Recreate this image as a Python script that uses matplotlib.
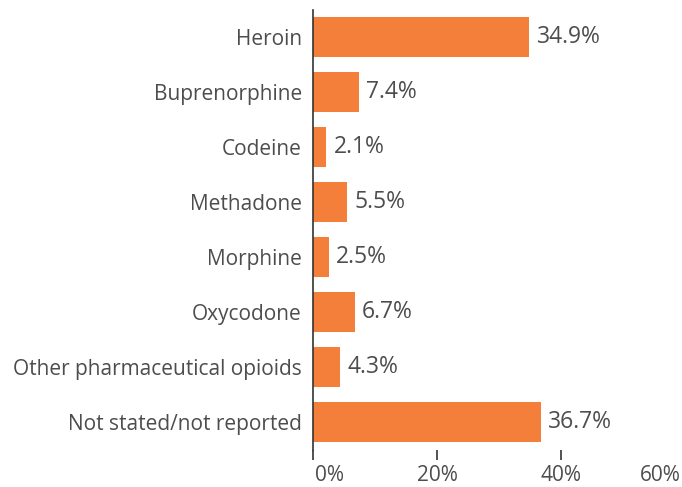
import matplotlib
matplotlib.use("Agg")
import matplotlib.pyplot as plt
from matplotlib.transforms import ScaledTranslation

categories = ["Heroin", "Buprenorphine", "Codeine", "Methadone", "Morphine",
              "Oxycodone", "Other pharmaceutical opioids", "Not stated/not reported"]
values = [34.9, 7.4, 2.1, 5.5, 2.5, 6.7, 4.3, 36.7]
xticks = [0, 20, 40, 60]
xtick_labels = ["0%", "20%", "40%", "60%"]

plt.rcParams['font.family'] = ['Open Sans', 'DejaVu Sans']
text_color = "#4d4d4d"
bar_color = "#F47F3A"

W, H = 682, 487
fig = plt.figure(figsize=(W / 100, H / 100), dpi=100)
left = 313 / W
right = 685 / W
top_px, bot_px = 9.5, 449.5
ax = fig.add_axes([left, (H - bot_px) / H, right - left, (bot_px - top_px) / H])

ypos = list(range(len(categories)))
ax.barh(ypos, values, height=0.727, color=bar_color)
for y, v in zip(ypos, values):
    ax.text(v + 1.2, y, f"{v:.1f}%", va="center", ha="left", fontsize=16.5, color=text_color)

ax.set_ylim(len(categories) - 0.5, -0.5)
ax.set_xlim(0, 60)
ax.set_yticks(ypos)
ax.set_yticklabels(categories, fontsize=15, color=text_color)
ax.set_xticks(xticks)
ax.set_xticklabels(xtick_labels, fontsize=15, color=text_color)
ax.tick_params(axis="y", length=0, pad=8)
ax.tick_params(axis="x", length=7, width=1.2, color="#333333", pad=4, direction="out")

labels = ax.get_xticklabels()
labels[0].set_horizontalalignment("left")
labels[0].set_transform(labels[0].get_transform() + ScaledTranslation(2 / 100, 0, fig.dpi_scale_trans))
labels[-1].set_horizontalalignment("right")
labels[-1].set_transform(labels[-1].get_transform() + ScaledTranslation(-4 / 100, 0, fig.dpi_scale_trans))

for s in ["top", "right", "bottom"]:
    ax.spines[s].set_visible(False)
ax.spines["left"].set_color("#333333")
ax.spines["left"].set_linewidth(1.2)
ax.set_facecolor("none")

fig.savefig("out.png", dpi=100)
